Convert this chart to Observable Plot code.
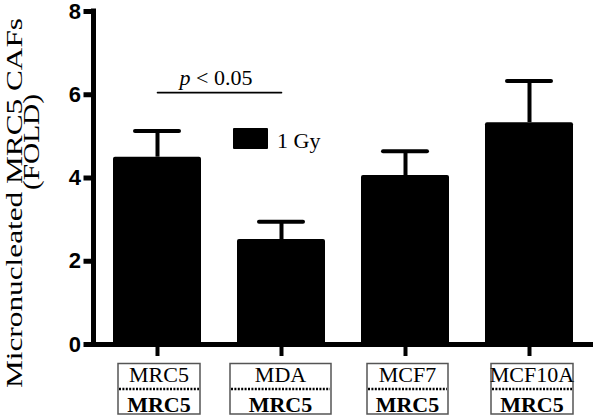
<!DOCTYPE html>
<html>
<head>
<meta charset="utf-8">
<script src="https://cdn.jsdelivr.net/npm/d3@7"></script>
<script src="https://cdn.jsdelivr.net/npm/@observablehq/plot@0.6"></script>
<style>
  html, body { margin: 0; padding: 0; background: #fff; overflow: hidden; }
  #chart { width: 597px; height: 418px; }
</style>
</head>
<body>
<div id="chart"></div>
<script>
// ---- data ----
const categories = ["MRC5", "MDA", "MCF7", "MCF10A"];
const means = [4.50, 2.52, 4.06, 5.33];
const upperErrors = [5.13, 2.95, 4.64, 6.33];
const bottomLabels = ["MRC5", "MRC5", "MRC5", "MRC5"];
const yTicks = [0, 2, 4, 6, 8];
const seriesName = "1 Gy";
const yLabelLines = ["Micronucleated MRC5 CAFs", "(FOLD)"];
const significance = { from: "MRC5", to: "MDA", level: 6.05, label: "< 0.05" };

const rows = categories.map((c, i) => ({ cat: c, mean: means[i], upper: upperErrors[i] }));

const serif = "'Liberation Serif', 'Times New Roman', serif";
const sans = "'Liberation Sans', Arial, sans-serif";

const chart = Plot.plot({
  width: 597,
  height: 418,
  marginTop: 11,
  marginBottom: 74,
  marginLeft: 93.5,
  marginRight: 4,
  style: { background: "#fff", color: "#000", overflow: "visible" },
  x: { type: "band", domain: categories, paddingInner: 0.29, paddingOuter: 0.145 },
  y: { domain: [0, 8] },
  marks: [
    Plot.barY(rows, { x: "cat", y: "mean", fill: "#000", rx: 2 }),
    Plot.ruleX(rows, { x: "cat", y1: "mean", y2: "upper", stroke: "#000", strokeWidth: 4 }),
    Plot.tickY(rows, { x: "cat", y: "upper", stroke: "#000", strokeWidth: 4, strokeLinecap: "round", insetLeft: 22, insetRight: 22 }),
    Plot.line([{ x: significance.from, y: significance.level }, { x: significance.to, y: significance.level }],
      { x: "x", y: "y", stroke: "#000", strokeWidth: 1.6 }),
    Plot.ruleY([0], { stroke: "#000", strokeWidth: 5, insetLeft: -2 }),
    Plot.axisY({ ticks: yTicks, tickSize: 10, strokeWidth: 5, tickPadding: 3, fontSize: 22, fontWeight: "bold",
      fontFamily: sans, label: null, tickFormat: d3.format("d") }),
    Plot.axisX({ tickSize: 12, strokeWidth: 4, tickFormat: () => "", label: null })
  ]
});

document.getElementById("chart").appendChild(chart);

// ---- annotations drawn with the plot's own scales ----
const xs = chart.scale("x");
const ys = chart.scale("y");
const bw = xs.bandwidth;
const cx = c => xs.apply(c) + bw / 2;
const svg = d3.select(chart);

// vertical y axis line
svg.append("line")
  .attr("x1", 93.5).attr("x2", 93.5)
  .attr("y1", ys.apply(8) - 2.5).attr("y2", ys.apply(0) + 2.5)
  .attr("stroke", "#000").attr("stroke-width", 5);

// y label (two rotated lines)
const yl = svg.append("g").attr("font-family", serif).attr("fill", "#000");
yl.append("text")
  .attr("transform", `translate(21.5,203) rotate(-90)`)
  .attr("text-anchor", "middle").attr("font-size", 24)
  .attr("textLength", 370).attr("lengthAdjust", "spacingAndGlyphs")
  .text(yLabelLines[0]);
yl.append("text")
  .attr("transform", `translate(39,142) rotate(-90)`)
  .attr("text-anchor", "middle").attr("font-size", 24)
  .attr("textLength", 96).attr("lengthAdjust", "spacingAndGlyphs")
  .text(yLabelLines[1]);

// significance label
const pt = svg.append("text")
  .attr("x", (cx(significance.from) + cx(significance.to)) / 2 - 3)
  .attr("y", ys.apply(6.22))
  .attr("text-anchor", "middle")
  .attr("font-family", serif).attr("font-size", 22).attr("fill", "#000");
pt.append("tspan").attr("font-style", "italic").text("p");
pt.append("tspan").text(" " + significance.label);

// legend
const lg = svg.append("g");
lg.append("rect").attr("x", 233).attr("y", 128).attr("width", 35).attr("height", 21).attr("rx", 1).attr("fill", "#000");
lg.append("text").attr("x", 277).attr("y", 147.5).attr("text-anchor", "start")
  .attr("font-family", serif).attr("font-size", 22).attr("fill", "#000").text(seriesName);

// x tick label boxes
const boxWidths = { MRC5: 82, MDA: 101, MCF7: 81, MCF10A: 82 };
const boxShift = { MRC5: 2, MDA: -0.5, MCF7: 2.5, MCF10A: 3 };
categories.forEach((c, i) => {
  const x = cx(c) + boxShift[c];
  const w = boxWidths[c];
  const g = svg.append("g");
  g.append("rect").attr("x", x - w / 2).attr("y", 363.5).attr("width", w).attr("height", 50.5)
    .attr("fill", "#fff").attr("stroke", "#555").attr("stroke-width", 1.5);
  g.append("line").attr("x1", x - w / 2 + 1).attr("x2", x + w / 2 - 1).attr("y1", 389).attr("y2", 389)
    .attr("stroke", "#000").attr("stroke-width", 2.5).attr("stroke-dasharray", "2 1.4");
  g.append("text").attr("x", x).attr("y", 382).attr("text-anchor", "middle")
    .attr("font-family", serif).attr("font-size", 22).attr("fill", "#000").text(c);
  g.append("text").attr("x", x).attr("y", 411.5).attr("text-anchor", "middle")
    .attr("font-family", serif).attr("font-size", 22).attr("font-weight", "bold").attr("fill", "#000").text(bottomLabels[i]);
});
</script>
</body>
</html>
